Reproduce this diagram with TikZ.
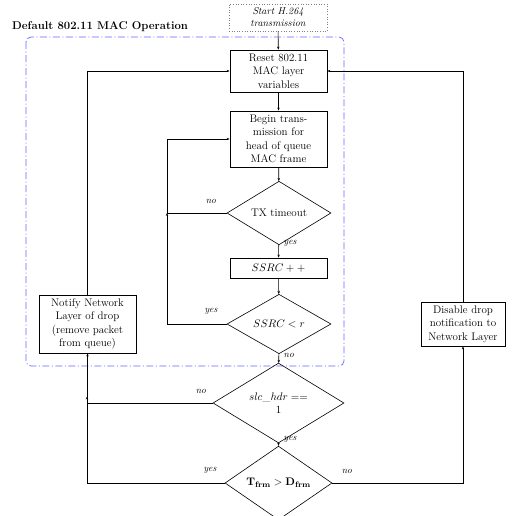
\documentclass[tikz,border=0pt]{standalone}
\usetikzlibrary{shapes.geometric,arrows.meta}
\begin{document}
\begin{tikzpicture}[x=1pt,y=1pt,
  every node/.style={font=\fontsize{11}{13.5}\selectfont},
  box/.style={draw,line width=0.8pt,align=center,inner sep=1pt},
  decision/.style={draw,diamond,line width=0.6pt,align=center,inner sep=0pt},
  conn/.style={line width=0.6pt,-{Stealth[length=3pt,width=2.4pt]}},
  lab/.style={font=\fontsize{9.5}{11}\selectfont\itshape,inner sep=0pt},
  labr/.style={lab,anchor=west}]
\useasboundingbox (0,0) rectangle (519,-515);
% frame
\draw[blue!60,line width=0.7pt,dash pattern=on 7pt off 2.5pt on 1pt off 2.5pt,rounded corners=5pt] (26,-37) rectangle (344,-366);
\node[font=\fontsize{11.3}{13}\selectfont\bfseries,anchor=west,inner sep=0pt] (title) at (12,-27) {Default 802.11 MAC Operation};
% nodes
\node[draw=gray,dotted,line width=0.6pt,minimum width=98pt,minimum height=27pt,inner sep=0pt,align=center,font=\fontsize{10}{12}\selectfont\itshape] (start) at (278,-17.5) {Start H.264\\transmission};
\node[box,minimum width=97pt,minimum height=42pt] (reset) at (278.5,-71) {Reset 802.11\\MAC layer\\variables};
\node[box,minimum width=97pt,minimum height=56pt] (begin) at (278.5,-139) {Begin trans-\\mission for\\head of queue\\MAC frame};
\node[decision,minimum width=104pt,minimum height=52pt] (tx) at (279,-213) {TX timeout};
\node[box,minimum width=97pt,minimum height=20pt] (ssrcpp) at (278.5,-268) {$SSRC++$};
\node[decision,minimum width=104pt,minimum height=52pt] (ssrcr) at (279,-324) {$SSRC<r$};
\node[box,minimum width=97pt,minimum height=58pt] (notify) at (87.5,-324) {Notify Network\\Layer of drop\\(remove packet\\from queue)};
\node[box,minimum width=84pt,minimum height=44pt] (disable) at (463,-324) {Disable drop\\notification to\\Network Layer};
\node[decision,minimum width=131pt,minimum height=66pt] (slc) at (278.5,-403) {$slc\_hdr ==$\\$1$};
\node[decision,minimum width=107pt,minimum height=54pt] (tfrm) at (278.5,-483) {$\mathbf{T_{frm}}>\mathbf{D_{frm}}$};
% junction coordinates
\coordinate (lx) at (167,-213);
\coordinate (jl) at (87,-396.5);
% connectors
\draw[conn] (start) -- (reset);
\draw[conn] (reset) -- (begin);
\draw[conn] (begin) -- (tx);
\draw[conn] (tx) -- (ssrcpp);
\draw[conn] (ssrcpp) -- (ssrcr);
\draw[conn] (ssrcr) -- (slc);
\draw[conn] (slc) -- (tfrm);
\draw[conn] (tx.west) -- (lx) |- (begin.west);
\draw[conn] (ssrcr.west) -| (lx);
\draw[conn] (tfrm.west) -| (notify.south);
\draw[conn] (slc.west) -| (jl);
\draw[conn] (notify.north) |- (reset.west);
\draw[conn] (tfrm.east) -| (disable.south);
\draw[conn] (disable.north) |- (reset.east);
% labels
\node[lab] (l1) at (211,-201) {no};
\node[labr] (l2) at (283.5,-243) {yes};
\node[lab] (l3) at (211,-311) {yes};
\node[labr] (l4) at (283.5,-355) {no};
\node[lab] (l5) at (201,-391) {no};
\node[labr] (l6) at (283.5,-439) {yes};
\node[lab] (l7) at (210,-470) {yes};
\node[lab] (l8) at (347,-471) {no};
\end{tikzpicture}
\end{document}
